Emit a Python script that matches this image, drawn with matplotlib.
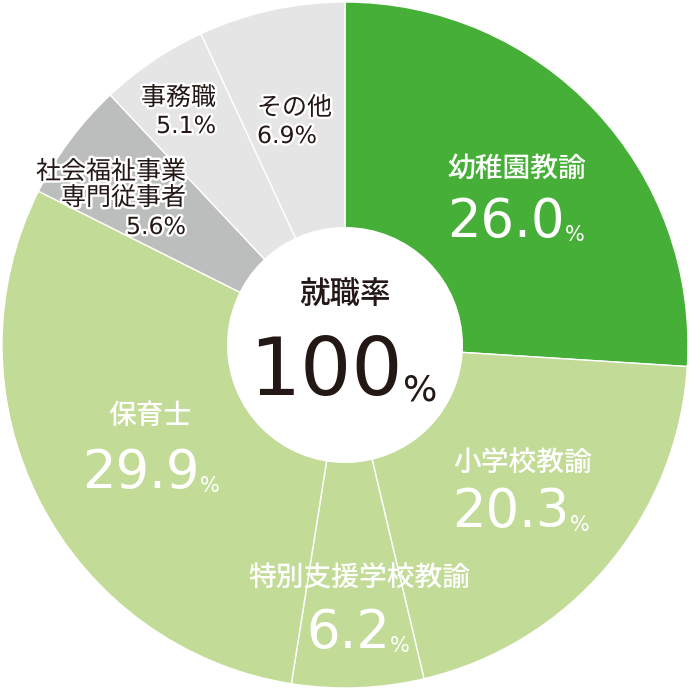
import matplotlib
matplotlib.use("Agg")
import matplotlib.pyplot as plt
from matplotlib.patches import Circle
import matplotlib.patheffects as pe

plt.rcParams['font.family'] = ['Noto Sans CJK JP', 'DejaVu Sans']

# ---- data ----
categories = ["幼稚園教諭", "小学校教諭", "特別支援学校教諭", "保育士",
              "社会福祉事業\n専門従事者", "事務職", "その他"]
values = [26.0, 20.3, 6.2, 29.9, 5.6, 5.1, 6.9]
center_title = "就職率"
center_value = "100"

colors = ["#46af37", "#c2dc97", "#c2dc97", "#c2dc97", "#bcbdbd", "#e5e5e5", "#e5e5e5"]

# ---- layout helpers (pixel positions in a 690px canvas, pie center 345,345, R=343) ----
C, R = 345.0, 343.0
def P(px, py):
    return ((px - C) / R, (C - py) / R)

NUMFONT = ['DejaVu Sans']

fig = plt.figure(figsize=(6.9, 6.9), dpi=100)
ax = fig.add_axes([0, 0, 1, 1])
lim = C / R

ax.pie(values, startangle=90, counterclock=False, colors=colors, radius=1.0,
       wedgeprops=dict(edgecolor='white', linewidth=1.0))
ax.set_xlim(-lim, lim)
ax.set_ylim(-lim, lim)
ax.set_aspect('equal')
ax.axis('off')
ax.add_patch(Circle((0, 0), 118 / R, facecolor='white', edgecolor='none', zorder=3))

def big_label(name, val, name_xy, num_xy, color):
    ax.text(*P(*name_xy), name, ha='center', va='center', fontsize=20,
            color=color, zorder=5, fontweight='medium')
    t = ax.text(*P(*num_xy), f"{val:.1f}", family=NUMFONT,
                ha='center', va='baseline', fontsize=38, color=color, zorder=5)
    ax.annotate('%', xy=(1, 0), xycoords=t, xytext=(0, 2), textcoords='offset points',
                ha='left', va='bottom', fontsize=15, color=color, zorder=5, family=NUMFONT)

white = 'white'
# positions: (name center), (number center x, baseline y)
big_label(categories[0], values[0], (517, 168), (506, 237), white)
big_label(categories[1], values[1], (523, 462), (511, 527), white)
big_label(categories[2], values[2], (359, 578), (348, 648), white)
big_label(categories[3], values[3], (150, 415), (141, 488), white)

stroke = [pe.withStroke(linewidth=3.5, foreground='white')]
dark = '#231815'

def small_label(name, val, name_xy, val_xy, ha):
    ax.text(*P(*name_xy), name, ha=ha, va='baseline', fontsize=18, color=dark,
            linespacing=1.0, path_effects=stroke, zorder=5, multialignment=ha)
    ax.text(*P(*val_xy), f"{val:.1f}%", ha=ha, va='baseline', fontsize=17, color=dark,
            path_effects=stroke, zorder=5, family=NUMFONT)

small_label(categories[4], values[4], (186, 205), (186, 234), 'right')
small_label(categories[5], values[5], (216, 105), (216, 133), 'right')
small_label(categories[6], values[6], (257, 115), (257, 143), 'left')

# center text
ax.text(*P(345, 295), center_title, ha='center', va='center', fontsize=22, color=dark,
        zorder=5, fontweight='medium')
t = ax.text(*P(326, 395), center_value, ha='center', va='baseline', fontsize=58,
            color=dark, zorder=5, family=NUMFONT)
ax.annotate('%', xy=(1, 0), xycoords=t, xytext=(0, 3), textcoords='offset points',
            ha='left', va='bottom', fontsize=26, color=dark, zorder=5, family=NUMFONT)

fig.savefig('out.png', dpi=100)
